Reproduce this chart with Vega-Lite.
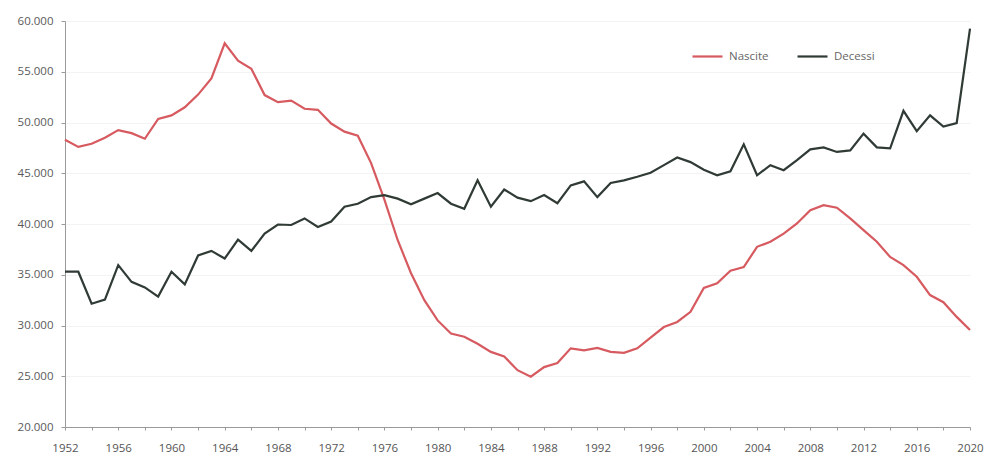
{
  "$schema": "https://vega.github.io/schema/vega-lite/v6.json",
  "width": 905,
  "height": 406,
  "autosize": {"type": "none"},
  "padding": {"left": 65, "top": 21, "right": 19, "bottom": 30},
  "background": "white",
  "config": {
    "locale": {"number": {"decimal": ",", "thousands": ".", "grouping": [3], "currency": ["€", ""]}},
    "view": {"stroke": null},
    "font": "Open Sans"
  },
  "data": {
    "values": [
      {"anno": 1952, "Nascite": 48300, "Decessi": 35300},
      {"anno": 1953, "Nascite": 47600, "Decessi": 35300},
      {"anno": 1954, "Nascite": 47900, "Decessi": 32150},
      {"anno": 1955, "Nascite": 48500, "Decessi": 32550},
      {"anno": 1956, "Nascite": 49250, "Decessi": 35950},
      {"anno": 1957, "Nascite": 48950, "Decessi": 34300},
      {"anno": 1958, "Nascite": 48400, "Decessi": 33750},
      {"anno": 1959, "Nascite": 50350, "Decessi": 32850},
      {"anno": 1960, "Nascite": 50700, "Decessi": 35300},
      {"anno": 1961, "Nascite": 51500, "Decessi": 34050},
      {"anno": 1962, "Nascite": 52750, "Decessi": 36900},
      {"anno": 1963, "Nascite": 54350, "Decessi": 37350},
      {"anno": 1964, "Nascite": 57800, "Decessi": 36600},
      {"anno": 1965, "Nascite": 56100, "Decessi": 38450},
      {"anno": 1966, "Nascite": 55300, "Decessi": 37350},
      {"anno": 1967, "Nascite": 52700, "Decessi": 39050},
      {"anno": 1968, "Nascite": 52000, "Decessi": 39950},
      {"anno": 1969, "Nascite": 52150, "Decessi": 39900},
      {"anno": 1970, "Nascite": 51350, "Decessi": 40550},
      {"anno": 1971, "Nascite": 51250, "Decessi": 39700},
      {"anno": 1972, "Nascite": 49900, "Decessi": 40250},
      {"anno": 1973, "Nascite": 49100, "Decessi": 41700},
      {"anno": 1974, "Nascite": 48700, "Decessi": 42000},
      {"anno": 1975, "Nascite": 46000, "Decessi": 42650},
      {"anno": 1976, "Nascite": 42400, "Decessi": 42850},
      {"anno": 1977, "Nascite": 38400, "Decessi": 42500},
      {"anno": 1978, "Nascite": 35150, "Decessi": 41950},
      {"anno": 1979, "Nascite": 32500, "Decessi": 42500},
      {"anno": 1980, "Nascite": 30500, "Decessi": 43050},
      {"anno": 1981, "Nascite": 29200, "Decessi": 42000},
      {"anno": 1982, "Nascite": 28900, "Decessi": 41500},
      {"anno": 1983, "Nascite": 28200, "Decessi": 44300},
      {"anno": 1984, "Nascite": 27400, "Decessi": 41700},
      {"anno": 1985, "Nascite": 26950, "Decessi": 43400},
      {"anno": 1986, "Nascite": 25600, "Decessi": 42600},
      {"anno": 1987, "Nascite": 24950, "Decessi": 42250},
      {"anno": 1988, "Nascite": 25900, "Decessi": 42850},
      {"anno": 1989, "Nascite": 26300, "Decessi": 42050},
      {"anno": 1990, "Nascite": 27750, "Decessi": 43800},
      {"anno": 1991, "Nascite": 27550, "Decessi": 44200},
      {"anno": 1992, "Nascite": 27800, "Decessi": 42650},
      {"anno": 1993, "Nascite": 27400, "Decessi": 44050},
      {"anno": 1994, "Nascite": 27300, "Decessi": 44300},
      {"anno": 1995, "Nascite": 27750, "Decessi": 44650},
      {"anno": 1996, "Nascite": 28800, "Decessi": 45050},
      {"anno": 1997, "Nascite": 29850, "Decessi": 45800},
      {"anno": 1998, "Nascite": 30350, "Decessi": 46550},
      {"anno": 1999, "Nascite": 31350, "Decessi": 46100},
      {"anno": 2000, "Nascite": 33700, "Decessi": 45350},
      {"anno": 2001, "Nascite": 34150, "Decessi": 44800},
      {"anno": 2002, "Nascite": 35400, "Decessi": 45200},
      {"anno": 2003, "Nascite": 35750, "Decessi": 47850},
      {"anno": 2004, "Nascite": 37750, "Decessi": 44800},
      {"anno": 2005, "Nascite": 38250, "Decessi": 45800},
      {"anno": 2006, "Nascite": 39050, "Decessi": 45300},
      {"anno": 2007, "Nascite": 40050, "Decessi": 46300},
      {"anno": 2008, "Nascite": 41350, "Decessi": 47350},
      {"anno": 2009, "Nascite": 41850, "Decessi": 47550},
      {"anno": 2010, "Nascite": 41600, "Decessi": 47100},
      {"anno": 2011, "Nascite": 40550, "Decessi": 47250},
      {"anno": 2012, "Nascite": 39400, "Decessi": 48900},
      {"anno": 2013, "Nascite": 38250, "Decessi": 47550},
      {"anno": 2014, "Nascite": 36750, "Decessi": 47450},
      {"anno": 2015, "Nascite": 35950, "Decessi": 51150},
      {"anno": 2016, "Nascite": 34800, "Decessi": 49150},
      {"anno": 2017, "Nascite": 33000, "Decessi": 50700},
      {"anno": 2018, "Nascite": 32300, "Decessi": 49600},
      {"anno": 2019, "Nascite": 30850, "Decessi": 49950},
      {"anno": 2020, "Nascite": 29550, "Decessi": 59250}
    ]
  },
  "transform": [{"fold": ["Nascite", "Decessi"], "as": ["serie", "valore"]}],
  "mark": {"type": "line", "strokeWidth": 2.2, "interpolate": "linear"},
  "encoding": {
    "x": {
      "field": "anno",
      "type": "quantitative",
      "scale": {"domain": [1952, 2020], "nice": false, "zero": false},
      "axis": {
        "title": null,
        "values": [1952,1954,1956,1958,1960,1962,1964,1966,1968,1970,1972,1974,1976,1978,1980,1982,1984,1986,1988,1990,1992,1994,1996,1998,2000,2002,2004,2006,2008,2010,2012,2014,2016,2018,2020],
        "labelExpr": "(datum.value - 1952) % 4 == 0 ? toString(datum.value) : ''",
        "grid": false,
        "domainColor": "#9a9a9a",
        "tickColor": "#9a9a9a",
        "tickSize": 3,
        "labelColor": "#555555",
        "labelFontSize": 11.5,
        "labelPadding": 12,
        "labelFlush": false,
        "labelOverlap": false
      }
    },
    "y": {
      "field": "valore",
      "type": "quantitative",
      "scale": {"domain": [20000, 60000], "nice": false, "zero": false},
      "axis": {
        "title": null,
        "values": [20000, 25000, 30000, 35000, 40000, 45000, 50000, 55000, 60000],
        "format": ",.0f",
        "grid": true,
        "gridColor": "#f3f3f3",
        "domainColor": "#9a9a9a",
        "tickColor": "#9a9a9a",
        "tickSize": 4,
        "labelColor": "#5a5a5a",
        "labelFontSize": 11.5,
        "labelPadding": 8
      }
    },
    "color": {
      "field": "serie",
      "type": "nominal",
      "scale": {"domain": ["Nascite", "Decessi"], "range": ["#d65a5f", "#2f3b34"]},
      "legend": {
        "title": null,
        "orient": "none",
        "legendX": 626,
        "legendY": 19,
        "direction": "horizontal",
        "symbolType": "stroke",
        "symbolSize": 900,
        "symbolStrokeWidth": 2.2,
        "labelColor": "#666666",
        "labelFontSize": 11.5,
        "columnPadding": 24,
        "labelOffset": 5
      }
    }
  }
}
